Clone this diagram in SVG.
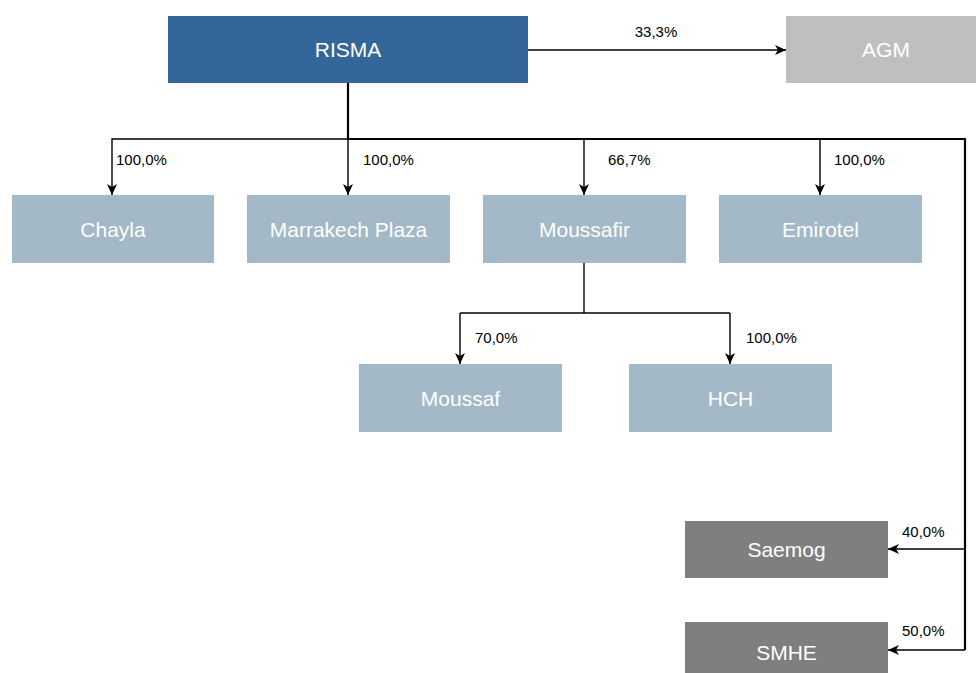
<svg xmlns="http://www.w3.org/2000/svg" width="976" height="673" viewBox="0 0 976 673">
<style>
.box text{font-family:"Liberation Sans",Arial,sans-serif;font-size:21px;fill:#fff;text-anchor:middle}
.lbl{font-family:"Liberation Sans",Arial,sans-serif;font-size:15px;fill:#000}
.c{fill:none;stroke:#000;stroke-width:1.4}
.t{fill:none;stroke:#000;stroke-width:2.2}
</style>
<defs>
<marker id="ah" markerUnits="userSpaceOnUse" markerWidth="12" markerHeight="10" refX="11" refY="5" orient="auto">
<path d="M0,0 L11,5 L0,10 L3,5 z" fill="#000"/>
</marker>
</defs>
<rect width="976" height="673" fill="#fff"/>
<g id="connectors">
<path class="c" d="M528,50 H786" marker-end="url(#ah)"/>
<path class="t" d="M348,83 V139 H965 V650"/>
<path class="c" d="M348,139 H112 V195" marker-end="url(#ah)"/>
<path class="c" d="M348,139 V195" marker-end="url(#ah)"/>
<path class="c" d="M584,139 V195" marker-end="url(#ah)"/>
<path class="c" d="M820,139 V195" marker-end="url(#ah)"/>
<path class="c" d="M965,549 H888" marker-end="url(#ah)"/>
<path class="c" d="M965,650 H888" marker-end="url(#ah)"/>
<path class="c" d="M584,263 V313"/>
<path class="c" d="M460,313 H730"/>
<path class="c" d="M460,313 V364" marker-end="url(#ah)"/>
<path class="c" d="M730,313 V364" marker-end="url(#ah)"/>
<text class="lbl" x="656" y="37" text-anchor="middle">33,3%</text>
<text class="lbl" x="116" y="165">100,0%</text>
<text class="lbl" x="363" y="165">100,0%</text>
<text class="lbl" x="608" y="165">66,7%</text>
<text class="lbl" x="834" y="165">100,0%</text>
<text class="lbl" x="475" y="343">70,0%</text>
<text class="lbl" x="746" y="343">100,0%</text>
<text class="lbl" x="902" y="537">40,0%</text>
<text class="lbl" x="902" y="636">50,0%</text>
</g>
<g id="risma" class="box"><rect x="168" y="16" width="360" height="67" fill="#346699"/><text x="348" y="57">RISMA</text></g>
<g id="agm" class="box"><rect x="786" y="16" width="190" height="67" fill="#bfbfbf"/><text x="886" y="57">AGM</text></g>
<g id="chayla" class="box"><rect x="12" y="195" width="202" height="68" fill="#a3b9c7"/><text x="113" y="237">Chayla</text></g>
<g id="marrakech" class="box"><rect x="247" y="195" width="203" height="68" fill="#a3b9c7"/><text x="348.5" y="237">Marrakech Plaza</text></g>
<g id="moussafir" class="box"><rect x="483" y="195" width="203" height="68" fill="#a3b9c7"/><text x="584.5" y="237">Moussafir</text></g>
<g id="emirotel" class="box"><rect x="719" y="195" width="203" height="68" fill="#a3b9c7"/><text x="820.5" y="237">Emirotel</text></g>
<g id="moussaf" class="box"><rect x="359" y="364" width="203" height="68" fill="#a3b9c7"/><text x="460.5" y="406">Moussaf</text></g>
<g id="hch" class="box"><rect x="629" y="364" width="203" height="68" fill="#a3b9c7"/><text x="730.5" y="406">HCH</text></g>
<g id="saemog" class="box"><rect x="685" y="521" width="203" height="57" fill="#7f7f7f"/><text x="786.5" y="557">Saemog</text></g>
<g id="smhe" class="box"><rect x="685" y="622" width="203" height="51" fill="#7f7f7f"/><text x="786.5" y="660">SMHE</text></g>
</svg>
